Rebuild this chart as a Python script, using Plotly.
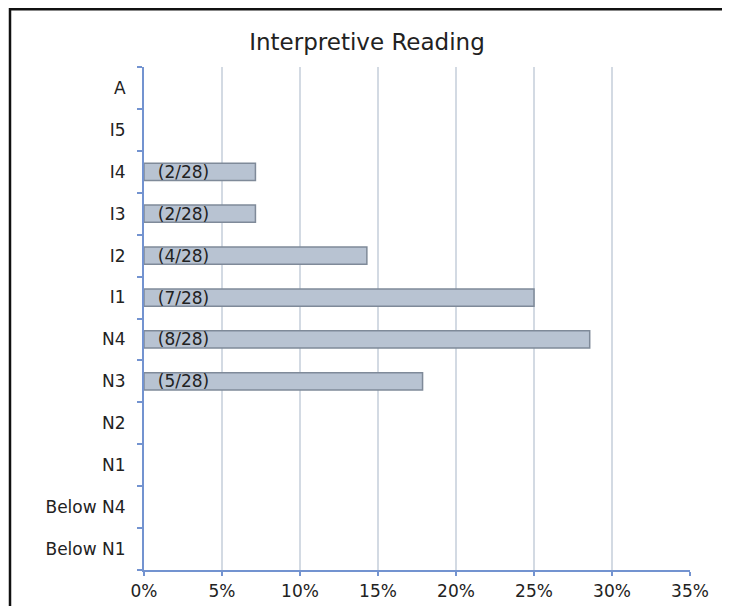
import plotly.graph_objects as go

categories = ["Below N1", "Below N4", "N1", "N2", "N3", "N4", "I1", "I2", "I3", "I4", "I5", "A"]
counts = [0, 0, 0, 0, 5, 8, 7, 4, 2, 2, 0, 0]
total = 28
x_ticks = [0, 5, 10, 15, 20, 25, 30, 35]

pct = [c / total * 100 if c > 0 else None for c in counts]
labels = [f"  ({c}/{total})" if c > 0 else "" for c in counts]

# page has an 8px body margin, so the figure is drawn 8px in from the window edge
W, H = 722, 598
L, R, T, B = 136, 40, 59, 36
pw, ph = W - L - R, H - T - B
FONT = "DejaVu Sans, Liberation Sans, Arial"

fig = go.Figure(go.Bar(
    y=categories, x=pct, orientation="h", width=0.41,
    marker=dict(color="#b8c3d2", line=dict(color="#7f8a99", width=1.5)),
    text=labels, textposition="inside", insidetextanchor="start", constraintext="none",
    textfont=dict(family=FONT, size=17, color="#222222"),
    cliponaxis=False, hoverinfo="skip",
))

def px2x(px):
    return (px - L) / pw

def py2y(py):
    return (H - B - py) / ph

fig.add_shape(type="rect", xref="paper", yref="paper",
              x0=px2x(2), x1=px2x(740), y0=py2y(620), y1=py2y(1.2),
              line=dict(color="#111111", width=2.5), fillcolor="rgba(0,0,0,0)", layer="above")

fig.update_layout(
    width=W, height=H,
    margin=dict(l=L, r=R, t=T, b=B, autoexpand=False),
    paper_bgcolor="white", plot_bgcolor="white",
    showlegend=False,
    title=dict(text="Interpretive Reading", x=359 / W, xref="container", xanchor="center",
               y=1 - 34 / H, yref="container", yanchor="middle",
               font=dict(family=FONT, size=23, color="#222222")),
    font=dict(family=FONT, size=17, color="#222222"),
)
fig.update_xaxes(
    range=[0, 35], tickvals=x_ticks, ticktext=[f"{v}%" for v in x_ticks],
    showgrid=True, gridcolor="#d3dae3", gridwidth=2,
    showline=True, linecolor="#7393d0", linewidth=2,
    ticks="outside", ticklen=4, tickcolor="#7393d0", tickwidth=2,
    zeroline=False, ticklabelstandoff=1, tickfont=dict(size=17),
    fixedrange=True,
)
fig.update_yaxes(
    type="category", categoryorder="array", categoryarray=categories,
    range=[-0.5, 11.5], showgrid=False,
    showline=True, linecolor="#7393d0", linewidth=2,
    ticks="outside", ticklen=5, tickcolor="#7393d0", tickwidth=2, tickson="boundaries",
    ticklabelstandoff=13, tickfont=dict(size=17),
    fixedrange=True,
)

fig.write_html("out.html")
